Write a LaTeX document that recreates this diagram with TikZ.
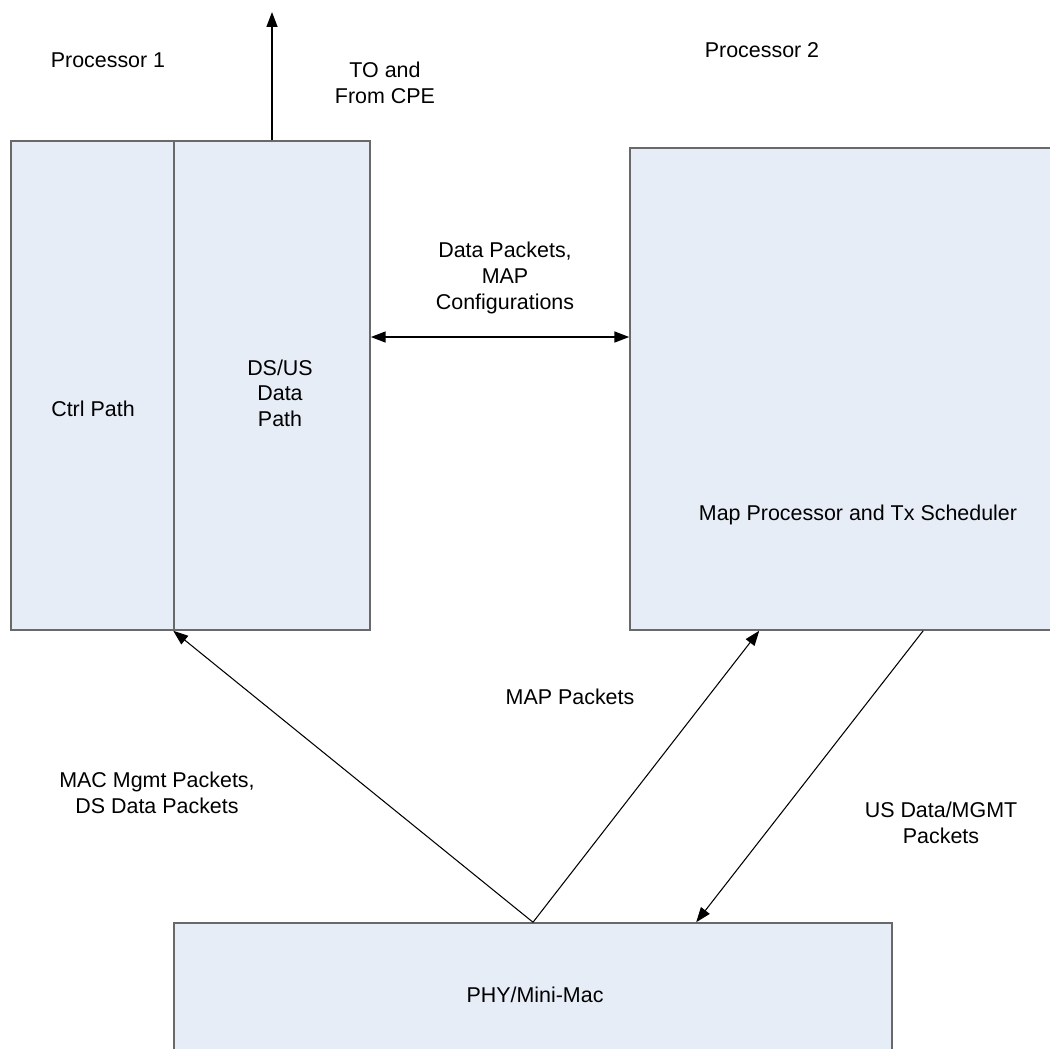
\documentclass[tikz,border=0pt]{standalone}
\usepackage{fontspec}
\setmainfont{Liberation Sans}
\usepackage{tikz}
\usetikzlibrary{shapes,arrows,arrows.meta,fit,calc,positioning}

\definecolor{boxfill}{RGB}{230,237,247}
\definecolor{boxline}{RGB}{105,105,105}

\tikzset{
	blk/.style={draw=boxline, fill=boxfill, line width=0.9pt, inner sep=0pt},
	txt/.style={draw=none, fill=none, align=center, font=\fontsize{12.2}{14.6}\selectfont},
	tip/.style={Triangle[length=8.5pt,width=6.2pt]},
	link/.style={-{Triangle[length=8.5pt,width=6.2pt]}, line width=0.6pt, black},
}

\begin{document}
\begin{tikzpicture}[x=0.02cm,y=-0.02cm]
	\clip (0,0) rectangle (1050,1048);
	
	\node[blk, minimum width=3.92cm, minimum height=9.78cm] (ctrl) at (109,385.5) {};
	\node[blk, minimum width=3.92cm, minimum height=9.78cm] (dsus) at (272,385.5) {};
	\node[blk, minimum width=9.4cm, minimum height=9.64cm] (map) at (865,389) {};
	\node[blk, minimum width=14.36cm, minimum height=3.4cm] (phy) at (533,1008) {};
	
	\node[txt] (ctrltxt) at (93,409) {Ctrl Path};
	\node[txt] (dsustxt) at (280,393) {DS/US\\Data\\Path};
	\node[txt] (maptxt) at (858,515) {Map Processor and Tx Scheduler};
	\node[txt] (phytxt) at (535,995) {PHY/Mini-Mac};
	
	\node[txt] (proca) at (108,60) {Processor 1};
	\node[txt] (procb) at (762,50) {Processor 2};
	\node[txt] (cpetxt) at (385,83) {TO and\\From CPE};
	\node[txt] (dpktxt) at (505,278) {Data Packets,\\MAP\\Configurations};
	\node[txt] (mappk) at (570,697) {MAP Packets};
	\node[txt] (macpk) at (157,793) {MAC Mgmt Packets,\\DS Data Packets};
	\node[txt] (uspk) at (941,823) {US Data/MGMT\\Packets};
	
	\coordinate (cpe) at (272,12);
	\draw[link, line width=0.9pt] (dsus.north) -- (cpe);
	\draw[link, {Triangle[length=8.5pt,width=6.2pt]}-{Triangle[length=8.5pt,width=6.2pt]}, line width=1.1pt]
		([yshift=0.97cm]dsus.east) -- ([yshift=0.97cm]dsus.east -| map.west);
	
	\draw[link] (phy.north) -- (dsus.south west);
	\draw[link] (phy.north) -- ([xshift=2.6cm]map.south west);
	\draw[link] ([xshift=5.88cm]map.south west) -- ([xshift=10.46cm]phy.north west);
	
\end{tikzpicture}
\end{document}
